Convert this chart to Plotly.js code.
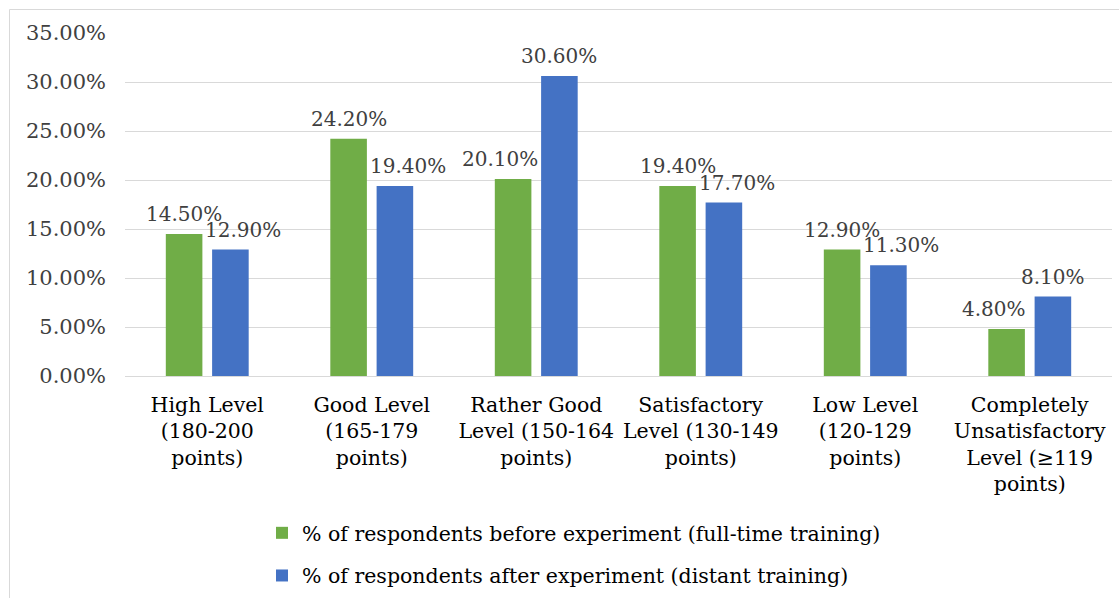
<!DOCTYPE html>
<html>
<head>
<meta charset="utf-8">
<script src="https://cdn.plot.ly/plotly-3.0.1.min.js"></script>
<style>
  html, body { margin: 0; padding: 0; background: #fff; }
  #chart { width: 1119px; height: 598px; }
</style>
</head>
<body>
<div id="chart"></div>
<script>
// ---- data ----
const categories = [
  "High Level<br>(180-200<br>points)",
  "Good Level<br>(165-179<br>points)",
  "Rather Good<br>Level (150-164<br>points)",
  "Satisfactory<br>Level (130-149<br>points)",
  "Low Level<br>(120-129<br>points)",
  "Completely<br>Unsatisfactory<br>Level (≥119<br>points)"
];
const seriesNames = [
  "% of respondents before experiment (full-time training)",
  "% of respondents after experiment (distant training)"
];
const beforeValues = [14.5, 24.2, 20.1, 19.4, 12.9, 4.8];
const afterValues  = [12.9, 19.4, 30.6, 17.7, 11.3, 8.1];
const yTickValues  = [0, 5, 10, 15, 20, 25, 30, 35];

// ---- styling / layout constants ----
const W = 1119, H = 598;
const M = { l: 125, r: 7, t: 33, b: 222, autoexpand: false };
const plotW = W - M.l - M.r, plotH = H - M.t - M.b;
const bargap = 0.437, bargroupgap = 0.21;
const colors = ["#70AD47", "#4472C4"];
const serif = "DejaVu Serif";
const catW = plotW / categories.length;
const slot = catW * (1 - bargap) / 2;
const avoid = 13;

const traces = [beforeValues, afterValues].map((vals, i) => ({
  type: "bar",
  x: categories,
  y: vals,
  name: seriesNames[i],
  legendgroup: "g" + i,
  marker: { color: colors[i] },
  hoverinfo: "skip"
}));

const annotations = [];
categories.forEach((c, k) => {
  const vals = [beforeValues[k], afterValues[k]];
  vals.forEach((v, i) => {
    const other = vals[1 - i];
    let shift = (i === 0 ? -1 : 1) * slot / 2;
    if (v < other) shift += (i === 0 ? -avoid : avoid);
    annotations.push({
      x: c, y: v, xref: "x", yref: "y",
      text: v.toFixed(2) + "%",
      showarrow: false,
      xshift: shift, yshift: 20,
      yanchor: "middle", xanchor: "center",
      font: { family: serif, size: 20, color: "#404040" }
    });
  });
});

const pxToPaperX = px => (px - M.l) / plotW;
const pxToPaperY = py => (H - M.b - py) / plotH;

const layout = {
  width: W, height: H,
  margin: M,
  paper_bgcolor: "#fff",
  plot_bgcolor: "#fff",
  barmode: "group",
  bargap: bargap,
  bargroupgap: bargroupgap,
  font: { family: serif, size: 20.5, color: "#000" },
  showlegend: true,
  legend: {
    orientation: "v",
    x: pxToPaperX(262), xanchor: "left",
    y: pxToPaperY(513), yanchor: "top",
    traceorder: "grouped",
    tracegroupgap: 13,
    font: { family: serif, size: 20.5, color: "#000" },
    bgcolor: "rgba(0,0,0,0)"
  },
  xaxis: {
    type: "category",
    automargin: false,
    showgrid: false,
    showline: false,
    ticks: "",
    ticklabelstandoff: 14,
    tickfont: { family: serif, size: 20.5, color: "#000" },
    fixedrange: true
  },
  yaxis: {
    range: [0, 35],
    automargin: false,
    tickvals: yTickValues,
    ticktext: yTickValues.map(v => v.toFixed(2) + "%"),
    showgrid: true,
    gridcolor: "#d9d9d9",
    gridwidth: 1,
    zeroline: true,
    zerolinecolor: "#d9d9d9",
    zerolinewidth: 1,
    showline: false,
    ticks: "",
    ticklabelstandoff: 18,
    tickfont: { family: serif, size: 21, color: "#404040" },
    fixedrange: true
  },
  annotations: annotations,
  shapes: [{
    type: "rect", xref: "paper", yref: "paper",
    x0: pxToPaperX(9.5), x1: pxToPaperX(W + 20),
    y0: pxToPaperY(H + 20), y1: pxToPaperY(9.5),
    line: { color: "#d9d9d9", width: 1 },
    fillcolor: "rgba(0,0,0,0)",
    layer: "below"
  }]
};

Plotly.newPlot("chart", traces, layout, { displayModeBar: false, staticPlot: true });
</script>
</body>
</html>
